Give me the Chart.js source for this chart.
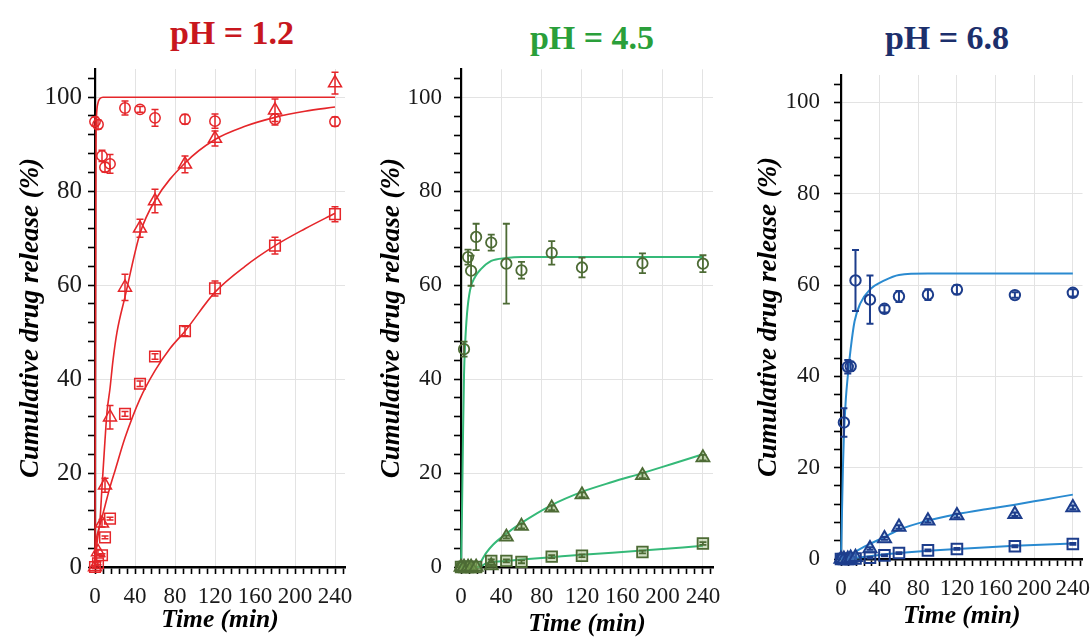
<!DOCTYPE html>
<html lang="en">
  <head>
    <meta charset="UTF-8" />
    <title>Cumulative drug release</title>
    <style>
      body {
        margin: 0;
        width: 1092px;
        height: 637px;
        position: relative;
        overflow: hidden;
        background: #fff;
      }
      .panel {
        position: absolute;
        top: 60px;
      }
      .ph {
        position: absolute;
        font: bold 34px "Liberation Serif", serif;
        line-height: 1;
        transform: translateX(-50%);
        white-space: nowrap;
      }
    </style>
  </head>
  <body>
    <div class="ph" style="left: 232px; top: 16px; color: #c8171e">pH = 1.2</div>
    <div class="ph" style="left: 592px; top: 21px; color: #2a9f3a">pH = 4.5</div>
    <div class="ph" style="left: 947px; top: 21px; color: #1c2f6c">pH = 6.8</div>

    <div class="panel" style="left: 0px"><canvas id="acid" width="360" height="577"></canvas></div>
    <div class="panel" style="left: 370px"><canvas id="mid" width="360" height="577"></canvas></div>
    <div class="panel" style="left: 740px"><canvas id="neutral" width="352" height="577"></canvas></div>

    <script src="https://cdn.jsdelivr.net/npm/chart.js"></script>

    <script>
      // sampling times (min)
      const times = [0, 3, 7, 10, 15, 30, 45, 60, 90, 120, 180, 240];

      // pH 1.2 measured release (%) and SD
      const ph12Circle = [94.8, 94.2, 87.5, 85.1, 85.8, 97.7, 97.4, 95.6, 95.3, 94.9, 95.3, 94.8];
      const ph12CircleSd = [1, 1, 1.2, 1, 2, 1.5, 0.6, 1.8, 1, 1.5, 1.2, 1];
      const ph12Tri = [0, 3.2, 9.3, 17.4, 31.9, 59.5, 72.1, 77.9, 85.7, 91.2, 97.2, 103.0];
      const ph12TriSd = [0.3, 0.5, 0.8, 1.5, 2.5, 2.8, 1.9, 2.5, 1.8, 1.6, 2.4, 2.3];
      const ph12Sq = [0, 0.8, 2.5, 6.3, 10.3, 32.6, 39.0, 44.8, 50.2, 59.3, 68.4, 75.1];
      const ph12SqSd = [0.2, 0.3, 0.3, 0.3, 0.3, 0.5, 0.6, 0.6, 1.0, 1.6, 1.8, 1.6];

      // pH 1.2 fitted curves
      const ph12CircleFitT = [0, 1, 1.5, 3, 5, 8, 240];
      const ph12CircleFit = [0, 90, 96, 98.8, 99.7, 100, 100];
      const ph12TriFitT = [0, 2, 5, 7, 10, 12, 15, 18, 22, 30, 45, 60, 90, 120, 150, 180, 210, 240];
      const ph12TriFit = [0, 5, 10, 17, 27, 33, 38, 44, 50, 57.5, 71, 78, 86, 91, 93.8, 95.7, 97, 97.9];
      const ph12SqFitT = [0, 1, 3, 5, 10, 15, 20, 30, 45, 60, 75, 90, 120, 150, 180, 210, 240];
      const ph12SqFit = [0, 5, 7.5, 9, 13, 17, 20.5, 27.5, 35.8, 41.8, 46.5, 50.2, 58.5, 64, 68.4, 72, 75.3];

      // pH 4.5 measured release (%) and SD
      const ph45Circle = [0, 46.4, 66.0, 63.1, 70.3, 69.1, 64.6, 63.2, 66.9, 63.8, 64.7, 64.6];
      const ph45CircleSd = [0, 1.6, 1.6, 3.2, 2.8, 1.7, 8.5, 1.8, 2.5, 2.1, 2.1, 1.8];
      const ph45Tri = [0, 0, 0, 0, 0, 0.3, 6.4, 8.7, 12.6, 15.4, 19.5, 23.3];
      const ph45TriSd = [0, 0, 0, 0, 0, 0.2, 0.3, 0.5, 0.5, 0.5, 0.6, 0.6];
      const ph45Sq = [0, 0, 0, 0, 0, 1.3, 1.3, 1.1, 2.2, 2.4, 3.2, 5.0];
      const ph45SqSd = [0, 0, 0, 0, 0, 0.3, 0.3, 0.3, 0.3, 0.3, 0.3, 0.3];

      // pH 4.5 fitted curves
      const ph45CircleFitT = [0, 1, 2, 3, 4, 6, 9, 14, 20, 30, 45, 60, 120, 240];
      const ph45CircleFit = [0, 12, 28, 41, 47, 54, 59, 61.8, 63.5, 65.2, 65.8, 66, 66, 66];
      const ph45TriFitT = [0, 17, 20, 25, 32, 45, 60, 90, 120, 150, 180, 210, 240];
      const ph45TriFit = [0, 0, 1.2, 3.0, 4.8, 7.1, 9.4, 13.2, 16.0, 18.1, 20.0, 22.0, 24.0];
      const ph45SqFitT = [0, 18, 25, 30, 45, 60, 90, 120, 180, 240];
      const ph45SqFit = [0, 0, 0.8, 1.0, 1.3, 1.6, 2.1, 2.6, 3.5, 4.5];

      // pH 6.8 measured release (%) and SD
      const ph68Circle = [0, 29.9, 42.1, 42.2, 61.0, 56.8, 54.8, 57.5, 57.9, 59.0, 57.8, 58.3];
      const ph68CircleSd = [0, 3.1, 1.5, 1.0, 6.7, 5.3, 0.8, 1.2, 1.2, 1.0, 0.6, 0.8];
      const ph68Tri = [0, 0, 0, 0.2, 0.4, 2.3, 4.5, 7.0, 8.4, 9.5, 9.8, 11.3];
      const ph68TriSd = [0, 0, 0, 0, 0, 0.3, 0.3, 0.4, 0.4, 0.4, 0.4, 0.4];
      const ph68Sq = [0, 0, 0, 0, 0.1, 0.3, 0.8, 1.3, 1.9, 2.2, 2.8, 3.3];
      const ph68SqSd = [0, 0, 0, 0, 0, 0.2, 0.2, 0.2, 0.2, 0.2, 0.2, 0.2];

      // pH 6.8 fitted curves
      const ph68CircleFitT = [0, 1, 2, 3, 5, 7, 10, 14, 20, 30, 45, 60, 90, 240];
      const ph68CircleFit = [0, 10, 20, 27, 35, 40, 46, 52, 56, 59, 61, 62.2, 62.5, 62.5];
      const ph68TriFitT = [0, 5, 10, 20, 30, 45, 60, 90, 120, 150, 180, 210, 240];
      const ph68TriFit = [0, 0.3, 0.9, 2.2, 3.3, 4.8, 6.4, 8.4, 9.8, 10.9, 11.9, 13.0, 14.1];
      const ph68SqFitT = [0, 10, 20, 30, 45, 60, 90, 120, 180, 240];
      const ph68SqFit = [0, 0.2, 0.4, 0.6, 1.0, 1.3, 1.8, 2.2, 2.9, 3.4];

      const pairs = (xs, ys) => xs.map((x, i) => ({ x: x, y: ys[i] }));

      // vertical SD bars with caps, drawn through each marker
      const errorBars = {
        id: "errorBars",
        afterDatasetsDraw(chart) {
          const ctx = chart.ctx;
          const xs = chart.scales.x;
          const ys = chart.scales.y;
          chart.data.datasets.forEach((ds) => {
            if (!ds.errors) return;
            ctx.save();
            ctx.strokeStyle = ds.borderColor;
            ctx.lineWidth = ds.pointBorderWidth || 1.5;
            ds.data.forEach((p, j) => {
              const e = ds.errors[j];
              if (!e) return;
              const x = xs.getPixelForValue(p.x);
              const lo = ys.getPixelForValue(p.y - e);
              const hi = ys.getPixelForValue(p.y + e);
              ctx.beginPath();
              ctx.moveTo(x, lo);
              ctx.lineTo(x, hi);
              ctx.moveTo(x - 3.5, lo);
              ctx.lineTo(x + 3.5, lo);
              ctx.moveTo(x - 3.5, hi);
              ctx.lineTo(x + 3.5, hi);
              ctx.stroke();
            });
            ctx.restore();
          });
        },
      };

      function markers(values, sd, style, stroke, fill, width) {
        return {
          data: pairs(times, values),
          errors: sd,
          pointStyle: style,
          pointRadius: style === "circle" ? 5.2 : 7.5,
          borderColor: stroke,
          backgroundColor: fill,
          pointBorderWidth: width,
          showLine: false,
          clip: false,
          order: 1,
        };
      }

      function fit(xs, ys, color, width) {
        return {
          data: pairs(xs, ys),
          showLine: true,
          pointRadius: 0,
          borderColor: color,
          borderWidth: width,
          cubicInterpolationMode: "monotone",
          clip: false,
          order: 2,
        };
      }

      const serif = "'Liberation Serif', 'Times New Roman', serif";

      function drawPanel(id, datasets, box) {
        new Chart(document.getElementById(id), {
          type: "scatter",
          data: { datasets: datasets },
          plugins: [errorBars],
          options: {
            responsive: false,
            animation: false,
            layout: { padding: { left: 0, right: box.right, top: box.top, bottom: 0 } },
            plugins: { legend: { display: false }, tooltip: { enabled: false } },
            scales: {
              x: {
                type: "linear",
                min: 0,
                max: 250,
                afterFit: (s) => {
                  s.height = box.xHeight;
                  s.paddingLeft = 0;
                  s.paddingRight = 0;
                },
                border: { color: "#000", width: 2.5 },
                grid: {
                  color: (c) => (c.tick && c.tick.value % 40 === 0 && c.tick.value !== 0 ? "#e3e3e3" : "rgba(0,0,0,0)"),
                  tickColor: "#000",
                  tickLength: 7,
                  tickWidth: 1.6,
                },
                ticks: {
                  stepSize: 8,
                  includeBounds: false,
                  autoSkip: false,
                  maxRotation: 0,
                  padding: 9,
                  color: "#1a1a1a",
                  font: { family: serif, size: 23 },
                  callback: (v) => (v % 40 === 0 ? v : ""),
                },
                title: {
                  display: true,
                  text: "Time (min)",
                  color: "#000",
                  padding: box.xTitlePad,
                  font: { family: serif, size: 25.5, weight: "bold", style: "italic", lineHeight: 1 },
                },
              },
              y: {
                type: "linear",
                min: 0,
                max: 106,
                afterFit: (s) => {
                  s.width = box.yWidth;
                  s.paddingTop = 0;
                  s.paddingBottom = 0;
                },
                border: { color: "#000", width: 2.2 },
                grid: {
                  color: (c) => (c.tick && c.tick.value % 20 === 0 && c.tick.value !== 0 ? "#e3e3e3" : "rgba(0,0,0,0)"),
                  tickColor: "#000",
                  tickLength: 7,
                  tickWidth: 1.6,
                },
                ticks: {
                  stepSize: 4,
                  includeBounds: false,
                  autoSkip: false,
                  padding: box.yTickPad,
                  color: "#1a1a1a",
                  font: { family: serif, size: box.yTickSize },
                  callback: (v) => (v % 20 === 0 ? v : ""),
                },
                title: {
                  display: true,
                  text: "Cumulative drug release (%)",
                  color: "#000",
                  padding: box.yTitlePad,
                  font: { family: serif, size: 27, weight: "bold", style: "italic", lineHeight: 1 },
                },
              },
            },
          },
        });
      }

      // pH 1.2
      const red = "#e5262a";
      drawPanel(
        "acid",
        [
          markers(ph12Circle, ph12CircleSd, "circle", red, "rgba(0,0,0,0)", 1.5),
          markers(ph12Tri, ph12TriSd, "triangle", red, "rgba(0,0,0,0)", 1.5),
          markers(ph12Sq, ph12SqSd, "rect", red, "rgba(0,0,0,0)", 1.5),
          fit(ph12CircleFitT, ph12CircleFit, red, 1.6),
          fit(ph12TriFitT, ph12TriFit, red, 1.6),
          fit(ph12SqFitT, ph12SqFit, red, 1.6),
        ],
        { right: 15, top: 7, xHeight: 70, yWidth: 95, yTickPad: 6, yTickSize: 25, xTitlePad: 4, yTitlePad: 18 }
      );

      // pH 4.5
      const olive = "#4d6b35";
      const green = "#35b978";
      drawPanel(
        "mid",
        [
          markers(ph45Circle, ph45CircleSd, "circle", olive, "rgba(0,0,0,0)", 1.8),
          markers(ph45Tri, ph45TriSd, "triangle", olive, "rgba(120,160,80,0.45)", 1.8),
          markers(ph45Sq, ph45SqSd, "rect", olive, "rgba(120,160,80,0.35)", 1.8),
          fit(ph45CircleFitT, ph45CircleFit, green, 2),
          fit(ph45TriFitT, ph45TriFit, green, 2),
          fit(ph45SqFitT, ph45SqFit, green, 2),
        ],
        { right: 17, top: 8, xHeight: 70, yWidth: 91, yTickPad: 12, yTickSize: 23, xTitlePad: 0, yTitlePad: 9 }
      );

      // pH 6.8
      const navy = "#1d3d8c";
      const blue = "#2a8ad0";
      drawPanel(
        "neutral",
        [
          markers(ph68Circle, ph68CircleSd, "circle", navy, "rgba(0,0,0,0)", 2),
          markers(ph68Tri, ph68TriSd, "triangle", navy, "rgba(80,140,210,0.35)", 2),
          markers(ph68Sq, ph68SqSd, "rect", navy, "rgba(0,0,0,0)", 2),
          fit(ph68CircleFitT, ph68CircleFit, blue, 2),
          fit(ph68TriFitT, ph68TriFit, blue, 2),
          fit(ph68SqFitT, ph68SqFit, blue, 2),
        ],
        { right: 9, top: 15, xHeight: 78, yWidth: 101, yTickPad: 14, yTickSize: 23, xTitlePad: 8, yTitlePad: 16 }
      );
    </script>
  </body>
</html>
